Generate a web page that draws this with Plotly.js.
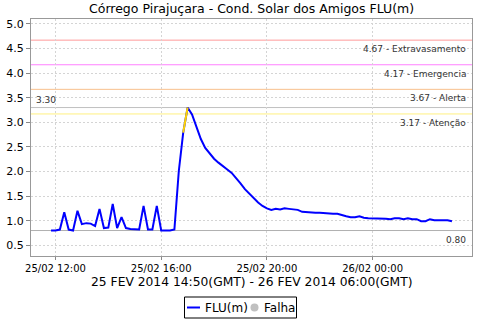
<!DOCTYPE html>
<html>
<head>
<meta charset="utf-8">
<script src="https://cdn.plot.ly/plotly-3.0.1.min.js"></script>
<style>html,body{margin:0;padding:0;background:#fff;}#chart{width:480px;height:320px;}</style>
</head>
<body>
<div id="chart"></div>
<script>
// ---- data ----
var startTime = '2014-02-25T11:50:00';
var stepMinutes = 10;
var fluValues = [
  0.80, 0.80, 0.82, 1.17, 0.82, 0.80, 1.20, 0.93, 0.95, 0.94,
  0.89, 1.24, 0.85, 0.86, 1.34, 0.85, 1.07, 0.85, 0.83, 0.82,
  0.82, 1.30, 0.82, 0.82, 1.30, 0.80, 0.80, 0.80, 0.82, 2.01,
  2.79, 3.30, 3.16, 2.92, 2.66, 2.48, 2.36, 2.26, 2.18, 2.10,
  2.04, 1.97, 1.87, 1.76, 1.64, 1.55, 1.45, 1.37, 1.30, 1.25,
  1.22, 1.24, 1.23, 1.25, 1.24, 1.23, 1.22, 1.18, 1.17, 1.17,
  1.16, 1.16, 1.15, 1.15, 1.14, 1.14, 1.11, 1.09, 1.07, 1.07,
  1.09, 1.06, 1.05, 1.05, 1.05, 1.05, 1.04, 1.03, 1.05, 1.05,
  1.03, 1.05, 1.03, 1.03, 0.99, 0.99, 1.03, 1.01, 1.01, 1.01,
  1.01, 0.99
];
var alertIndices = [30, 31];   // segment drawn in yellow (crossing Atenção)
var levelValues = [4.67, 4.17, 3.67, 3.17];
var levelNames  = ['Extravasamento', 'Emergencia', 'Alerta', 'Atenção'];
var levelColors = ['#ff9a9a', '#ff80ff', '#f8c08c', '#fff080'];
var maxValue = 3.30;
var minValue = 0.80;
var tickVals = ['2014-02-25 12:00', '2014-02-25 16:00', '2014-02-25 20:00', '2014-02-26 00:00'];
var tickText = ['25/02 12:00', '25/02 16:00', '25/02 20:00', '26/02 00:00'];
var xRange = ['2014-02-25 11:04:30', '2014-02-26 03:45:30'];
var yRange = [0.282, 5.10];
var titleText = 'Córrego Pirajuçara - Cond. Solar dos Amigos FLU(m)';
var subtitleText = '25 FEV 2014 14:50(GMT) - 26 FEV 2014 06:00(GMT)';
var legendNames = ['FLU(m)', 'Falha'];

// ---- build ----
function fmt(d){
  function p(n){return (n<10?'0':'')+n;}
  return d.getFullYear()+'-'+p(d.getMonth()+1)+'-'+p(d.getDate())+' '+p(d.getHours())+':'+p(d.getMinutes());
}
var t0 = new Date(startTime);
var times = fluValues.map(function(v,i){ return fmt(new Date(t0.getTime()+i*stepMinutes*60000)); });

var traces = [
  {x: times, y: fluValues, type:'scatter', mode:'lines', line:{color:'#0000ff', width:2}, hoverinfo:'skip', showlegend:false},
  {x: alertIndices.map(function(i){return times[i];}), y: alertIndices.map(function(i){return fluValues[i];}),
   type:'scatter', mode:'lines', line:{color:'#ffd500', width:2}, hoverinfo:'skip', showlegend:false}
];

var labelFont = {family:'DejaVu Sans', size:9, color:'#333'};
var shapes = [];
var annotations = [];
levelValues.forEach(function(v,i){
  shapes.push({type:'line', xref:'paper', x0:0, x1:1, yref:'y', y0:v, y1:v, line:{color:levelColors[i], width:1}, layer:'below'});
  annotations.push({xref:'paper', x:0.992, yref:'y', y:v, xanchor:'right', yanchor:'top', yshift:-2,
    text: v.toFixed(2)+' - '+levelNames[i], showarrow:false, font:labelFont});
});
shapes.push({type:'line', xref:'paper', x0:0, x1:1, yref:'y', y0:maxValue, y1:maxValue, line:{color:'#c0c0c0', width:1}, layer:'below'});
annotations.push({xref:'paper', x:0.006, yref:'y', y:maxValue, xanchor:'left', yanchor:'bottom', yshift:1,
  text: maxValue.toFixed(2), showarrow:false, font:labelFont});
shapes.push({type:'line', xref:'paper', x0:0, x1:1, yref:'y', y0:minValue, y1:minValue, line:{color:'#b0b0b0', width:1}, layer:'below'});
annotations.push({xref:'paper', x:0.992, yref:'y', y:minValue, xanchor:'right', yanchor:'top', yshift:-2,
  text: minValue.toFixed(2), showarrow:false, font:labelFont});

// title & subtitle
annotations.push({xref:'paper', x:0.5, yref:'paper', y:1, yshift:11, xanchor:'center', yanchor:'middle',
  text:titleText, showarrow:false, font:{family:'DejaVu Sans', size:12.5, color:'#000'}});
annotations.push({xref:'paper', x:0.5, yref:'paper', y:0, yshift:-26, xanchor:'center', yanchor:'middle',
  text:subtitleText, showarrow:false, font:{family:'DejaVu Sans', size:12.3, color:'#000'}});

// legend box (drawn manually)
function px(xp){ return (xp-31)/(472-31); }
function py(yp){ return (256-yp)/(256-19); }
shapes.push({type:'rect', xref:'paper', yref:'paper', x0:px(184.5), x1:px(296.5), y0:py(297), y1:py(318), line:{color:'#000', width:1}, fillcolor:'#fff'});
shapes.push({type:'line', xref:'paper', yref:'paper', x0:px(187), x1:px(200), y0:py(307.5), y1:py(307.5), line:{color:'#0000ff', width:2}});
shapes.push({type:'circle', xref:'paper', yref:'paper', x0:px(250.5), x1:px(258.5), y0:py(303.5), y1:py(311.5), line:{color:'#c0c0c0', width:0}, fillcolor:'#c0c0c0'});
annotations.push({xref:'paper', yref:'paper', x:px(203), y:py(307.5), xanchor:'left', yanchor:'middle', text:legendNames[0], showarrow:false, font:{family:'DejaVu Sans', size:12, color:'#000'}});
annotations.push({xref:'paper', yref:'paper', x:px(262), y:py(307.5), xanchor:'left', yanchor:'middle', text:legendNames[1], showarrow:false, font:{family:'DejaVu Sans', size:12, color:'#000'}});

var layout = {
  width:480, height:320,
  margin:{l:31, r:8, t:19, b:64, pad:0},
  paper_bgcolor:'#fff', plot_bgcolor:'#fff',
  showlegend:false,
  xaxis:{type:'date', range:xRange, tickvals:tickVals, ticktext:tickText, ticks:'outside', ticklen:3, tickcolor:'#888',
    showgrid:true, gridcolor:'#d4d4d4', griddash:'2px,2px', showline:true, linecolor:'#999', mirror:true, zeroline:false,
    tickfont:{family:'DejaVu Sans', size:10, color:'#000'}, fixedrange:true},
  yaxis:{range:yRange, dtick:0.5, tick0:0, tickformat:'.1f', ticks:'outside', ticklen:4, tickcolor:'#888',
    showgrid:true, gridcolor:'#d4d4d4', griddash:'2px,2px', showline:true, linecolor:'#999', mirror:true, zeroline:false,
    tickfont:{family:'DejaVu Sans', size:11, color:'#000'}, fixedrange:true},
  shapes:shapes, annotations:annotations
};
Plotly.newPlot('chart', traces, layout, {staticPlot:true, displayModeBar:false});
</script>
</body>
</html>
